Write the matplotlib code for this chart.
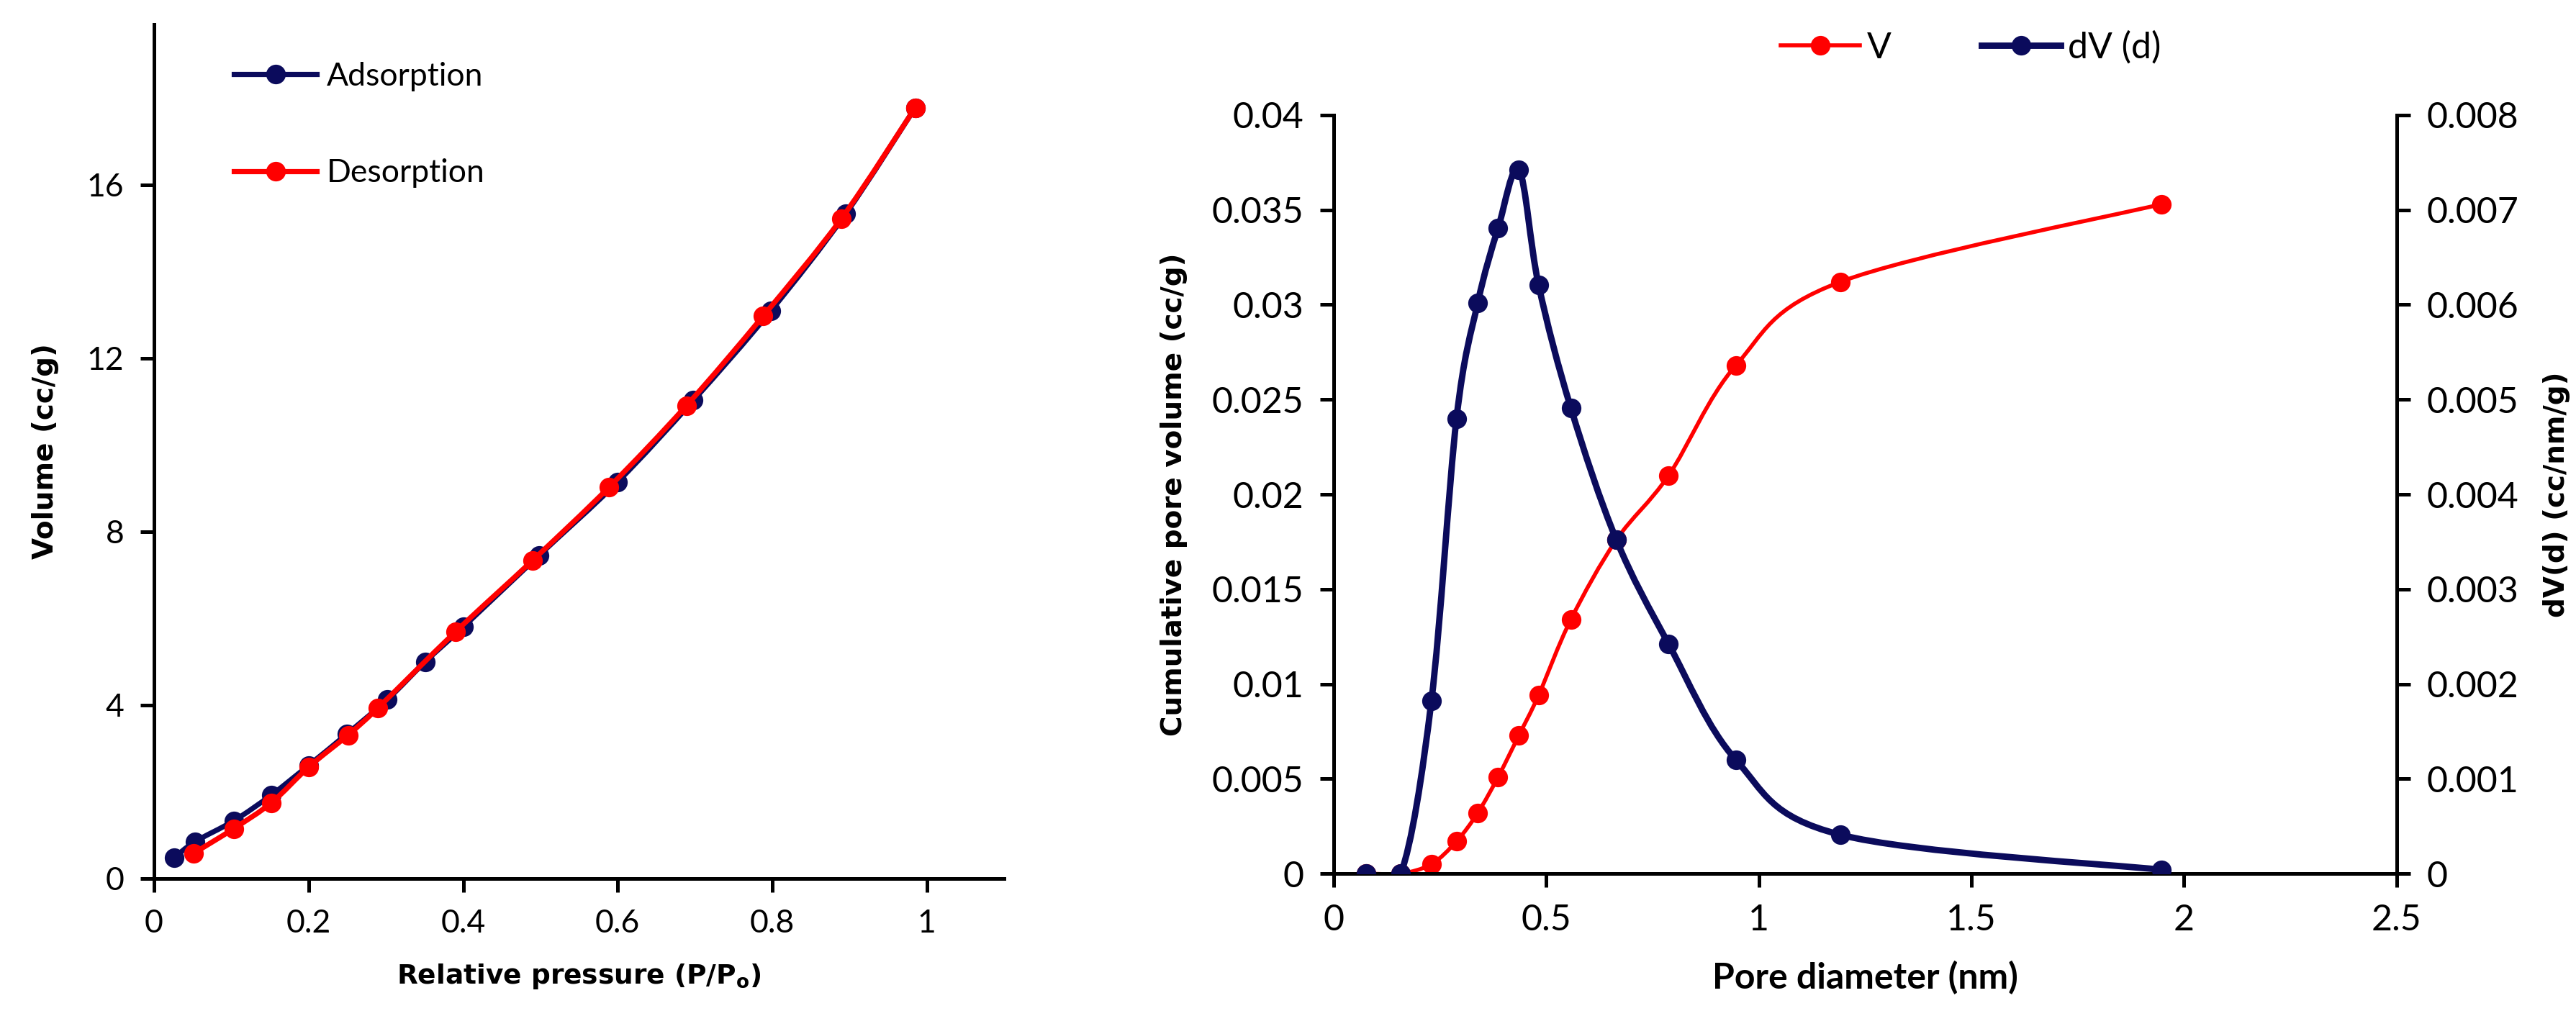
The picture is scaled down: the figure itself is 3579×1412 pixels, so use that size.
import numpy as np
import matplotlib
matplotlib.use("Agg")
import matplotlib.pyplot as plt
from matplotlib.path import Path
from matplotlib.patches import PathPatch
from matplotlib.lines import Line2D

# isotherm data
ads_p = [0.026, 0.053, 0.103, 0.152, 0.2, 0.25, 0.302, 0.351, 0.4, 0.498, 0.6, 0.698, 0.798, 0.895, 0.985]
ads_v = [0.48, 0.85, 1.33, 1.93, 2.61, 3.34, 4.13, 5.0, 5.8, 7.45, 9.15, 11.03, 13.09, 15.33, 17.78]
des_p = [0.051, 0.103, 0.152, 0.2, 0.251, 0.29, 0.39, 0.49, 0.589, 0.689, 0.788, 0.889, 0.985]
des_v = [0.58, 1.15, 1.75, 2.57, 3.31, 3.94, 5.69, 7.34, 9.03, 10.91, 12.97, 15.21, 17.78]

# pore size distribution
pore_d = [0.077, 0.158, 0.23, 0.289, 0.339, 0.387, 0.436, 0.482, 0.558, 0.665, 0.788, 0.946, 1.191, 1.946]
cum_v = [0.0, 0.0, 0.0005, 0.0017, 0.0032, 0.0051, 0.0073, 0.0094, 0.0134, 0.0176, 0.021, 0.0268, 0.0312, 0.0353]
dv_d = [0.0, 0.0, 0.00182, 0.0048, 0.00602, 0.00681, 0.00742, 0.00621, 0.00491, 0.00352, 0.00242, 0.0012, 0.00041, 0.00004]

left_xticks = [0, 0.2, 0.4, 0.6, 0.8, 1]
left_xlabels = ["0", "0.2", "0.4", "0.6", "0.8", "1"]
left_yticks = [0, 4, 8, 12, 16]
right_xticks = [0, 0.5, 1, 1.5, 2, 2.5]
right_xlabels = ["0", "0.5", "1", "1.5", "2", "2.5"]
cum_ticks = [0, 0.005, 0.01, 0.015, 0.02, 0.025, 0.03, 0.035, 0.04]
cum_labels = ["0", "0.005", "0.01", "0.015", "0.02", "0.025", "0.03", "0.035", "0.04"]
dv_ticks = [0, 0.001, 0.002, 0.003, 0.004, 0.005, 0.006, 0.007, 0.008]
dv_labels = ["0", "0.001", "0.002", "0.003", "0.004", "0.005", "0.006", "0.007", "0.008"]

NAVY = "#0b0b5c"
RED = "#ff0000"
TICKFONT = ["Lato", "DejaVu Sans"]
MS = 8.8


def smooth_line(ax, x, y, color, lw, zorder=2):
    """excel-like smoothed line, bezier through the points"""
    pts = np.column_stack([x, y])
    verts = [pts[0]]
    codes = [Path.MOVETO]
    n = len(pts)
    for i in range(n - 1):
        p0 = pts[max(i - 1, 0)]
        p1 = pts[i]
        p2 = pts[i + 1]
        p3 = pts[min(i + 2, n - 1)]
        c1 = p1 + (p2 - p0) / 6.0
        c2 = p2 - (p3 - p1) / 6.0
        verts += [c1, c2, p2]
        codes += [Path.CURVE4] * 3
    patch = PathPatch(Path(verts, codes), fill=False, edgecolor=color,
                      linewidth=lw, zorder=zorder, capstyle="round", joinstyle="round")
    ax.add_patch(patch)


def style_axes(ax):
    for s in ["top", "right"]:
        ax.spines[s].set_visible(False)
    for s in ["left", "bottom"]:
        ax.spines[s].set_linewidth(1.8)
    ax.tick_params(direction="out", width=1.8, length=7, pad=8)


fig = plt.figure(figsize=(17.895, 7.06), dpi=200)

# ---- left panel: isotherm
ax1 = fig.add_axes([0.0598, 0.1353, 0.33, 0.8407])
style_axes(ax1)
smooth_line(ax1, ads_p, ads_v, NAVY, 2.6)
ax1.plot(ads_p, ads_v, "o", color=NAVY, ms=MS, zorder=3)
smooth_line(ax1, des_p, des_v, RED, 2.6, zorder=4)
ax1.plot(des_p, des_v, "o", color=RED, ms=MS, zorder=5)
ax1.set_xlim(0, 1.1)
ax1.set_ylim(0, 19.7)
ax1.set_xticks(left_xticks)
ax1.set_xticklabels(left_xlabels)
ax1.set_yticks(left_yticks)
for lab in ax1.get_xticklabels() + ax1.get_yticklabels():
    lab.set_family(TICKFONT)
    lab.set_fontsize(16)
ax1.set_xlabel("Relative pressure (P/P$_{\\mathbf{o}}$)", fontsize=13.5, fontweight="bold", labelpad=12)
ax1.set_ylabel("Volume (cc/g)", fontsize=14, fontweight="bold", labelpad=14)
h1 = [Line2D([], [], color=NAVY, lw=2.6, marker="o", ms=MS),
      Line2D([], [], color=RED, lw=2.6, marker="o", ms=MS)]
ax1.legend(h1, ["Adsorption", "Desorption"], loc="upper left",
           bbox_to_anchor=(0.06, 0.99), frameon=False, handlelength=2.6,
           handletextpad=0.3, labelspacing=2.1, prop={"family": TICKFONT, "size": 16})

# ---- right panel: pore size distribution
ax2 = fig.add_axes([0.5177, 0.1402, 0.4127, 0.7465])
style_axes(ax2)
ax3 = ax2.twinx()
for s in ["top", "left"]:
    ax3.spines[s].set_visible(False)
ax3.spines["right"].set_linewidth(1.8)
ax3.spines["bottom"].set_linewidth(1.8)
ax3.tick_params(direction="out", width=1.8, length=7, pad=8)

smooth_line(ax2, pore_d, cum_v, RED, 2.0)
ax2.plot(pore_d, cum_v, "o", color=RED, ms=MS, zorder=3)
smooth_line(ax3, pore_d, dv_d, NAVY, 3.2)
ax3.plot(pore_d, dv_d, "o", color=NAVY, ms=MS, zorder=3)

ax2.set_xlim(0, 2.5)
ax2.set_ylim(0, 0.04)
ax3.set_ylim(0, 0.008)
ax2.set_xticks(right_xticks)
ax2.set_xticklabels(right_xlabels)
ax2.set_yticks(cum_ticks)
ax2.set_yticklabels(cum_labels)
ax3.set_yticks(dv_ticks)
ax3.set_yticklabels(dv_labels)
for lab in ax2.get_xticklabels() + ax2.get_yticklabels() + ax3.get_yticklabels():
    lab.set_family(TICKFONT)
    lab.set_fontsize(18)
ax2.set_xlabel("Pore diameter (nm)", fontsize=18, fontweight="bold", family=TICKFONT, labelpad=12)
ax2.set_ylabel("Cumulative pore volume (cc/g)", fontsize=14, fontweight="bold", labelpad=12)
ax3.set_ylabel("dV(d) (cc/nm/g)", fontsize=14, fontweight="bold", labelpad=12)

h2 = [Line2D([], [], color=RED, lw=2.0, marker="o", ms=MS),
      Line2D([], [], color=NAVY, lw=3.2, marker="o", ms=MS)]
fig.legend(h2, ["V", "dV (d)"], loc="center", bbox_to_anchor=(0.765, 0.953), ncol=2,
           frameon=False, handlelength=2.2, handletextpad=0.2, columnspacing=2.5,
           prop={"family": TICKFONT, "size": 18})

fig.savefig("out.png", dpi=200, facecolor="white")
